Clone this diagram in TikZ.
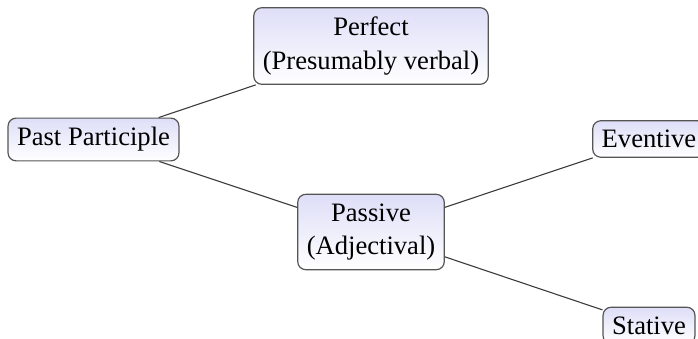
\documentclass[tikz,border=0pt]{standalone}
\usepackage{fontspec}
\setmainfont{Liberation Serif}
\definecolor{boxtop}{RGB}{222,222,248}
\definecolor{boxline}{RGB}{85,85,85}
\definecolor{edgeline}{RGB}{60,60,60}
\tikzset{
  term/.style={draw=boxline, line width=1.2pt, rounded corners=8pt,
    top color=boxtop, bottom color=white,
    inner xsep=9pt, inner ysep=9.3pt, align=center,
    font=\fontsize{26.6}{33.5}\selectfont},
  link/.style={draw=edgeline, line width=1.1pt}
}
\begin{document}
\begin{tikzpicture}[x=1pt,y=-1pt]
  \useasboundingbox (0,0) rectangle (698,339);
  \node[term] (perfect)  at (371,46)    {Perfect\\(Presumably verbal)};
  \node[term] (past)     at (93.5,139.5) {Past Participle};
  \node[term] (passive)  at (371,232)   {Passive\\(Adjectival)};
  \node[term] (eventive) at (649,139)   {Eventive};
  \node[term] (stative)  at (649,325.5) {Stative};
  \draw[link] (past) -- (perfect);
  \draw[link] (past) -- (passive);
  \draw[link] (passive) -- (eventive);
  \draw[link] (passive) -- (stative);
\end{tikzpicture}
\end{document}
